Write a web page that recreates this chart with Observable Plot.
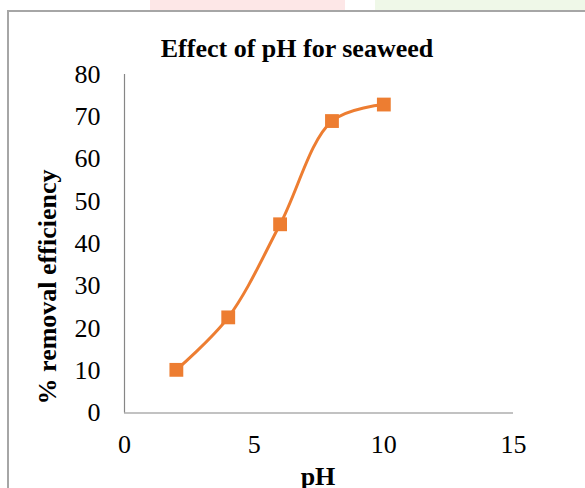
<!DOCTYPE html>
<html>
<head>
<meta charset="utf-8">
<script src="https://cdn.jsdelivr.net/npm/d3@7"></script>
<script src="https://cdn.jsdelivr.net/npm/@observablehq/plot@0.6"></script>
<style>
  html, body { margin: 0; padding: 0; background: #ffffff; }
  #chart { width: 585px; height: 488px; overflow: hidden; }
</style>
</head>
<body>
<div id="chart"></div>
<script>
const pH = [2, 4, 6, 8, 10];
const removal = [10.2, 22.6, 44.6, 69.0, 72.9];
const xTicks = [0, 5, 10, 15];
const yTicks = [0, 10, 20, 30, 40, 50, 60, 70, 80];
const titleText = "Effect of pH for seaweed";
const xLabel = "pH";
const yLabel = "% removal efficiency";

const data = pH.map((x, i) => ({ x, y: removal[i] }));
const orange = "#ED7D31";
const axisGray = "#868686";
const font = "'Liberation Serif', 'Times New Roman', serif";

const chart = Plot.plot({
  width: 585,
  height: 488,
  marginLeft: 124,
  marginRight: 72,
  marginTop: 74,
  marginBottom: 75.5,
  style: { fontFamily: font, fontSize: "26px", color: "#000", background: "#ffffff" },
  x: { domain: [0, 15], ticks: xTicks, tickSize: 0, tickPadding: 22, label: null },
  y: { domain: [0, 80], ticks: yTicks, tickSize: 0, tickPadding: 24, label: null },
  marks: [
    Plot.ruleY([0], { stroke: axisGray, strokeWidth: 1.2 }),
    Plot.ruleX([0], { stroke: axisGray, strokeWidth: 1.2 }),
    Plot.line(data, { x: "x", y: "y", stroke: orange, strokeWidth: 3, curve: "catmull-rom" }),
    Plot.dot(data, { x: "x", y: "y", symbol: "square", fill: orange, stroke: "none", r: 7.8 })
  ]
});

document.getElementById("chart").appendChild(chart);

const svg = d3.select(chart);
// faint watermark shapes above the frame
const deco = svg.insert("g", ":first-child");
deco.append("rect").attr("x", 150).attr("y", 0).attr("width", 195).attr("height", 10).attr("fill", "#fde7e7");
deco.append("rect").attr("x", 375).attr("y", 0).attr("width", 210).attr("height", 10).attr("fill", "#eff8e8");

// frame border
svg.append("path")
  .attr("d", "M8,488 L8,11 L585,11")
  .attr("fill", "none")
  .attr("stroke", "#a6a6a6")
  .attr("stroke-width", 2);

// title
svg.append("text")
  .attr("x", 297).attr("y", 57)
  .attr("text-anchor", "middle")
  .attr("font-family", font).attr("font-weight", "bold").attr("font-size", 26)
  .attr("fill", "#000")
  .text(titleText);

// x label
svg.append("text")
  .attr("x", 318).attr("y", 485)
  .attr("text-anchor", "middle")
  .attr("font-family", font).attr("font-weight", "bold").attr("font-size", 26)
  .attr("fill", "#000")
  .text(xLabel);

// y label
svg.append("text")
  .attr("transform", "translate(56,287) rotate(-90)")
  .attr("text-anchor", "middle")
  .attr("font-family", font).attr("font-weight", "bold").attr("font-size", 26)
  .attr("fill", "#000")
  .text(yLabel);
</script>
</body>
</html>
